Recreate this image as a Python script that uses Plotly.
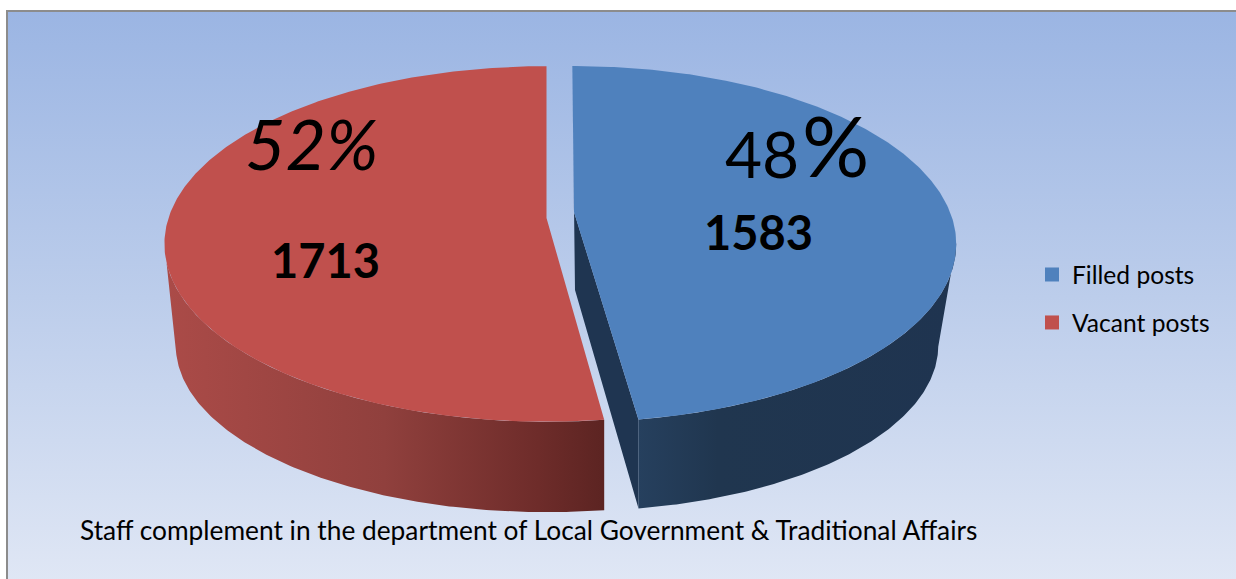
import numpy as np
import plotly.graph_objects as go

# Staff complement figures
categories = ["Filled posts", "Vacant posts"]
posts = [1583, 1713]
top_colors = ["#4F81BD", "#C0504D"]
title_text = "Staff complement in the department of Local Government &amp; Traditional Affairs"

W, H = 1236, 579
FONT = "Lato"


class Disc:
    """Perspective projection of a circular pie face onto the page."""

    def __init__(self, cx, cy, a, b, k):
        self.cx, self.cy, self.a, self.b, self.k = cx, cy, a, b, k

    def point(self, deg):
        t = np.radians(np.asarray(deg, dtype=float))
        u, v = np.sin(t), -np.cos(t)
        w = 1 + self.k * v
        return self.cx + self.b * u / w, self.cy + self.a * v / w


def arc(disc, start, stop, n=160):
    return disc.point(np.linspace(start, stop, n))


def polygon(fig, x, y, color=None, gradient=None):
    kw = {"fillgradient": gradient} if gradient else {"fillcolor": color}
    fig.add_trace(go.Scatter(
        x=list(x), y=list(y), mode="lines", fill="toself",
        line=dict(width=0), hoverinfo="skip", showlegend=False, **kw))


total = sum(posts)
split = 360 * posts[0] / total

fig = go.Figure()

# Page background with a frame along the top and left
polygon(fig, [7, W + 5, W + 5, 7, 7], [11, 11, H + 5, H + 5, 11],
        gradient=dict(type="vertical",
                      colorscale=[[0, "#E0E7F5"], [0.5, "#BCCDEB"], [1, "#9BB5E3"]]))
fig.add_trace(go.Scatter(x=[7, 7, W + 5], y=[H + 5, 11, 11], mode="lines",
                         line=dict(color="#8C8C8C", width=2),
                         hoverinfo="skip", showlegend=False))

# Vacant slice: outer wall, then the top face
red_top = Disc(546.5, 218, 174, 378, -0.146)
red_bot = Disc(546.5, 296, 152, 354, -0.297)
red_start = split - 0.4
bx, by = arc(red_bot, split + 0.5, 250)
tx, ty = arc(red_top, 262, red_start)
polygon(fig, np.r_[bx, tx], np.r_[by, ty],
        gradient=dict(type="horizontal",
                      colorscale=[[0, "#AB4B48"], [0.5, "#90403D"], [0.85, "#6E2C2A"], [1, "#5C2422"]]))
ax, ay = arc(red_top, red_start, 360, 300)
polygon(fig, np.r_[red_top.cx, ax, red_top.cx], np.r_[red_top.cy, ay, red_top.cy], color=top_colors[1])

# Filled slice: cut wall, outer wall, then the top face
blue_top = Disc(574, 212, 172.2, 376, -0.18)
blue_bot = Disc(575, 290, 146.5, 342, -0.337)
start = -0.3
blue_end = split - 1.0
sx, sy = blue_top.point([start, blue_end])
ex, ey = blue_bot.point([start, split])
polygon(fig,
        [sx[0], blue_top.cx, sx[1], ex[1], blue_bot.cx, ex[0], sx[0]],
        [sy[0], blue_top.cy, sy[1], ey[1], blue_bot.cy, ey[0], sy[0]],
        color="#1F3551")
bx, by = arc(blue_bot, split, 110)
tx, ty = arc(blue_top, 100, blue_end)
polygon(fig, np.r_[bx, tx], np.r_[by, ty],
        gradient=dict(type="horizontal",
                      colorscale=[[0, "#26405E"], [0.25, "#20364F"], [1, "#1F3450"]]))
ax, ay = arc(blue_top, start, blue_end, 300)
polygon(fig, np.r_[blue_top.cx, ax, blue_top.cx], np.r_[blue_top.cy, ay, blue_top.cy], color=top_colors[0])

# Legend entries
for name, color in zip(categories, top_colors):
    fig.add_trace(go.Scatter(x=[None], y=[None], mode="markers", name=name, legendgroup=name,
                             marker=dict(symbol="square", size=14, color=color), hoverinfo="skip"))


def label(x, y, text, size, **font):
    fig.add_annotation(x=x, y=y, text=text, showarrow=False, xanchor="left", yanchor="middle",
                       font=dict(family=FONT, size=size, color="#000000", **font))


pct = [round(100 * p / total) for p in posts]
label(723, 153, str(pct[0]), 64)
label(800, 144, "%", 84)
label(243, 143, f"<i>{pct[1]}%</i>", 70)
label(702, 232, f"<b>{posts[0]}</b>", 47)
label(269, 260, f"<b>{posts[1]}</b>", 47)
label(78, 530, title_text, 26.3)

fig.update_layout(
    width=W, height=H, margin=dict(l=0, r=0, t=0, b=0),
    paper_bgcolor="#FFFFFF", plot_bgcolor="#FFFFFF",
    xaxis=dict(range=[0, W], visible=False, fixedrange=True),
    yaxis=dict(range=[H, 0], visible=False, fixedrange=True),
    legend=dict(x=1032 / W, y=1 - 252 / H, xanchor="left", yanchor="top",
                bgcolor="rgba(0,0,0,0)", tracegroupgap=13,
                font=dict(family=FONT, size=24.6, color="#000000")),
)

fig.write_html("out.html", config={"displayModeBar": False})
